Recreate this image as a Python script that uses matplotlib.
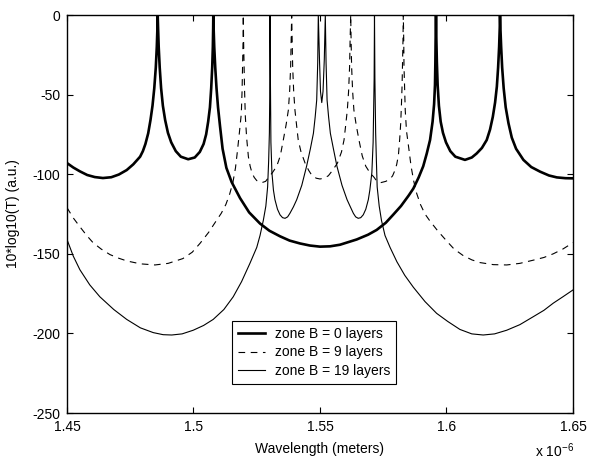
import numpy as np
import matplotlib.pyplot as plt
from matplotlib.ticker import FuncFormatter

plt.rcParams['font.family'] = ['Liberation Sans', 'DejaVu Sans']
plt.rcParams['font.size'] = 10
plt.rcParams['axes.unicode_minus'] = False

# wavelength in micrometres, transmission in dB
wl_b0 = [1.4500, 1.4525, 1.4551, 1.4580, 1.4610, 1.4642, 1.4675, 1.4705, 1.4736, 1.4762,
         1.4789, 1.4800, 1.4810, 1.4821, 1.4830, 1.4838, 1.4845, 1.4851, 1.4855, 1.48575,
         1.48585, 1.48600, 1.48625, 1.48665, 1.4872, 1.4879, 1.4888, 1.4899, 1.4912, 1.4930,
         1.4950, 1.4979, 1.5005, 1.5025, 1.5040, 1.5050, 1.5058, 1.5065, 1.5070, 1.5074,
         1.50765, 1.50778, 1.50783, 1.50795, 1.5082, 1.5086, 1.5091, 1.5097, 1.5105, 1.5115,
         1.5130, 1.5151, 1.5184, 1.5220, 1.5263, 1.5300, 1.5342, 1.5380, 1.5421, 1.5460,
         1.5500, 1.5540, 1.5579, 1.5615, 1.5645, 1.5690, 1.5724, 1.5760, 1.5789, 1.5820,
         1.5850, 1.5869, 1.5890, 1.5908, 1.5922, 1.5935, 1.5945, 1.5951, 1.59545, 1.5956,
         1.5957, 1.59585, 1.5960, 1.5962, 1.5965, 1.5970, 1.5977, 1.5986, 1.5998, 1.6015,
         1.6035, 1.6073, 1.6100, 1.6119, 1.6140, 1.6159, 1.6172, 1.6183, 1.6192, 1.6199,
         1.6204, 1.6208, 1.62105, 1.62115, 1.6213, 1.6216, 1.6220, 1.6226, 1.6234, 1.6245,
         1.6258, 1.6275, 1.6304, 1.6335, 1.6370, 1.6405, 1.6436, 1.6470, 1.6500]
db_b0 = [-93, -95.8, -98.2, -100.5, -101.8, -102.4, -101.9, -100.2, -97.4, -93.8,
         -89, -85.5, -81, -74.3, -66, -57, -46, -33, -20, -8,
         0, -8, -20, -33, -46, -57, -66, -74, -80, -85.5,
         -89, -90.6, -89.5, -86, -81, -75, -67, -58, -46, -33,
         -20, -8, 0, -8, -20, -33, -46, -58, -70, -84,
         -96, -105, -115, -124, -131, -135.5, -139, -141.7, -143.5, -144.8,
         -145.5, -145.3, -144.3, -142.5, -141, -138, -135, -130.5, -125.5, -120,
         -113.5, -109, -102, -95, -87, -78.5, -67, -56, -44, -30,
         -16, 0, -16, -30, -44, -57, -67, -74, -80, -85.5,
         -89, -91, -89.5, -87, -83.5, -78.5, -72, -64, -55, -45,
         -33, -20, -8, 0, -8, -20, -33, -46, -58, -68,
         -77, -84, -91, -95.5, -98.4, -100.8, -102, -102.5, -102.6]

wl_b9 = [1.4500, 1.4525, 1.4551, 1.4578, 1.4603, 1.4635, 1.4670, 1.4705, 1.4737, 1.4790,
         1.4848, 1.4900, 1.4958, 1.4995, 1.5026, 1.5060, 1.5091, 1.5110, 1.5128, 1.5143,
         1.5156, 1.5166, 1.5174, 1.5182, 1.5189, 1.5192, 1.5194, 1.5196, 1.51968, 1.5198,
         1.5200, 1.5202, 1.5205, 1.5210, 1.5217, 1.5224, 1.5231, 1.5240, 1.5250, 1.5270,
         1.5285, 1.5297, 1.5312, 1.5329, 1.5343, 1.5355, 1.5366, 1.5375, 1.5380, 1.5384,
         1.5386, 1.53881, 1.5390, 1.5392, 1.5396, 1.5401, 1.5408, 1.5414, 1.5425, 1.5441,
         1.5455, 1.5467, 1.5485, 1.5500, 1.5515, 1.5533, 1.5550, 1.5569, 1.5585, 1.5595,
         1.5601, 1.5608, 1.5613, 1.5617, 1.5619, 1.56214, 1.5623, 1.5625, 1.5629, 1.5634,
         1.5643, 1.5654, 1.5667, 1.5681, 1.5697, 1.5714, 1.5725, 1.5740, 1.5760, 1.5777,
         1.5787, 1.5795, 1.5803, 1.5810, 1.5815, 1.5819, 1.5822, 1.58245, 1.5826, 1.5828,
         1.58293, 1.5831, 1.5832, 1.58345, 1.5837, 1.5842, 1.5852, 1.5860, 1.5870, 1.5882,
         1.5897, 1.5915, 1.5935, 1.5965, 1.6001, 1.6030, 1.6065, 1.6100, 1.6132, 1.6185,
         1.6238, 1.6290, 1.6343, 1.6385, 1.6422, 1.6460, 1.6500]
db_b9 = [-121, -127.5, -133, -138.5, -143, -147, -150.5, -152.8, -154.5, -156.3,
         -157, -156, -153, -149, -143.4, -136.5, -129, -124.5, -119, -112.5,
         -105, -96, -85, -73, -62, -48, -32, -16, 0, -16,
         -32, -48, -64, -77, -89, -95, -99, -102, -104, -105.3,
         -104.5, -102, -99, -95, -88.5, -78.5, -69, -59.7, -48, -32.5,
         -16, 0, -16, -32.5, -48, -59.7, -70, -78.5, -86, -93,
         -97.5, -100.5, -102.5, -103, -102.5, -101, -97.5, -93, -86, -78.5,
         -70, -59.7, -48, -32.5, -16, 0, -16, -32.5, -48, -59.7,
         -69, -78.5, -88.5, -95, -99, -102, -104.5, -105.3, -104.5, -103,
         -101, -98, -94, -88, -78, -68, -56, -44, -32, -16,
         0, -16, -32, -46, -60, -73, -85, -95, -104, -112,
         -119, -125, -129.5, -135.5, -142, -147, -151, -153.8, -155.5, -156.8,
         -157, -156, -154, -152.3, -150, -147, -143]

wl_b19 = [1.4500, 1.4525, 1.4551, 1.4590, 1.4630, 1.4685, 1.4736, 1.4790, 1.4841, 1.4880,
          1.4914, 1.4955, 1.4999, 1.5040, 1.5078, 1.5120, 1.5157, 1.5190, 1.5223, 1.5250,
          1.5263, 1.5276, 1.5286, 1.5293, 1.5297, 1.5300, 1.5302, 1.53024, 1.5304, 1.5306,
          1.5310, 1.5316, 1.5322, 1.5332, 1.5342, 1.5352, 1.5362, 1.5372, 1.5381, 1.5395,
          1.5408, 1.5428, 1.5447, 1.5462, 1.5474, 1.5481, 1.5487, 1.5491, 1.54933, 1.5498,
          1.5502, 1.5507, 1.5512, 1.5517, 1.5521, 1.5524, 1.5528, 1.5534, 1.5541, 1.5553,
          1.5567, 1.5587, 1.5607, 1.5620, 1.5632, 1.5641, 1.5651, 1.5661, 1.5671, 1.5681,
          1.5691, 1.5697, 1.5705, 1.5710, 1.5714, 1.57154, 1.5717, 1.5720, 1.5723, 1.5726,
          1.5734, 1.5743, 1.5757, 1.5777, 1.5804, 1.5835, 1.5869, 1.5915, 1.5961, 1.6005,
          1.6053, 1.6100, 1.6145, 1.6190, 1.6238, 1.6290, 1.6343, 1.6385, 1.6422, 1.6460,
          1.6500]
db_b19 = [-141, -151.5, -160, -169.5, -177, -185, -191.2, -196.5, -199.5, -200.8,
          -201, -200.3, -198, -195, -191.2, -185, -177, -167.5, -156, -146,
          -138.5, -129, -120, -108, -92, -74, -40, 0, -40, -80,
          -99, -110, -116, -122, -125.5, -127.3, -127.7, -126.8, -124.6, -120.5,
          -116, -107, -95, -84, -74.3, -64, -53.4, -30, 0, -28,
          -48, -55, -48, -28, 0, -30, -53.4, -64, -74.3, -84,
          -95, -107, -116, -120.5, -124.6, -126.8, -127.7, -127.3, -125.5, -122,
          -116, -110, -99, -80, -40, 0, -40, -74, -92, -108,
          -120, -129, -138.5, -146, -155, -163.5, -171, -180, -187.4, -192.5,
          -197.5, -200.3, -201, -200.3, -198, -194.5, -189.5, -185.5, -181, -177,
          -172.7]

labels = ['zone B = 0 layers', 'zone B = 9 layers', 'zone B = 19 layers']
xticks = [1.45, 1.5, 1.55, 1.6, 1.65]
yticks = [0, -50, -100, -150, -200, -250]

fig = plt.figure(figsize=(5.97, 4.59), dpi=100)
ax = fig.add_axes([0.1122, 0.1002, 0.8476, 0.8671])

ax.plot(np.array(wl_b0) * 1e-6, db_b0, color='k', lw=1.9, label=labels[0])
ax.plot(np.array(wl_b9) * 1e-6, db_b9, color='k', lw=0.8, dashes=(6, 5), label=labels[1])
ax.plot(np.array(wl_b19) * 1e-6, db_b19, color='k', lw=0.8, label=labels[2])

ax.set_xlim(1.45e-6, 1.65e-6)
ax.set_ylim(-250, 0)
ax.set_xticks(np.array(xticks) * 1e-6)
ax.set_yticks(yticks)
ax.xaxis.set_major_formatter(FuncFormatter(lambda v, p: f'{v * 1e6:g}'))
ax.tick_params(direction='in', length=4, width=0.8, top=True, right=True, labelsize=10, pad=5)
for s in ax.spines.values():
    s.set_linewidth(1.0)

ax.set_xlabel('Wavelength (meters)', fontsize=10)
ax.set_ylabel('10*log10(T) (a.u.)', fontsize=10)
ax.xaxis.set_label_coords(0.5, -0.072)
ax.yaxis.set_label_coords(-0.093, 0.5)

fig.text(574 / 597, 1 - 451 / 459, r'x 10$^{\mathregular{-6}}$', ha='right', va='center', fontsize=10)

leg = ax.legend(loc='upper left', bbox_to_anchor=(232 / 597, 1 - 321 / 459),
                bbox_transform=fig.transFigure, fancybox=False, framealpha=1,
                edgecolor='k', handlelength=2.0, handletextpad=0.7,
                labelspacing=0.35, borderpad=0.4, borderaxespad=0, fontsize=10)
leg.get_frame().set_linewidth(0.8)

fig.savefig('out.png', dpi=100)
